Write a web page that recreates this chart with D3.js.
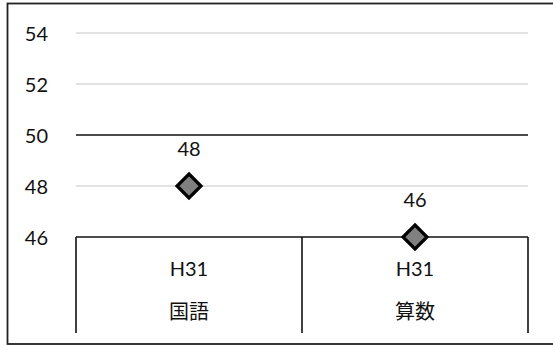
<!DOCTYPE html>
<html>
<head>
<meta charset="utf-8">
<script src="https://cdn.jsdelivr.net/npm/d3@7"></script>
<style>
  html, body { margin: 0; padding: 0; background: #fff; }
  svg { display: block; }
  text { font-family: Lato, "Open Sans", "Noto Sans CJK JP", sans-serif; fill: #111; }
  .cjk { font-family: "Noto Sans CJK JP", sans-serif; }
</style>
</head>
<body>
<script>
const categories = ["国語", "算数"];
const years = ["H31", "H31"];
const values = [48, 46];
const yTicks = [46, 48, 50, 52, 54];

const W = 553, H = 347;
const FS = 20;
const svg = d3.select("body").append("svg").attr("width", W).attr("height", H);

// outer chart border (right edge extends past the picture)
svg.append("rect")
  .attr("x", 7.5).attr("y", 3.5)
  .attr("width", 560).attr("height", 340.5)
  .attr("fill", "none").attr("stroke", "#222").attr("stroke-width", 1.8);

const x = d3.scaleBand().domain(categories).range([76, 528]).padding(0);
const y = d3.scaleLinear().domain([46, 54]).range([237, 33]);

// gridlines
svg.append("g").selectAll("line")
  .data(yTicks.filter(t => t !== 46))
  .join("line")
  .attr("x1", 76).attr("x2", 528)
  .attr("y1", d => y(d)).attr("y2", d => y(d))
  .attr("stroke", d => d === 50 ? "#111" : "#d9d9d9")
  .attr("stroke-width", 1.6);

// y axis labels
const yAxis = d3.axisLeft(y).tickValues(yTicks).tickSize(0).tickPadding(0).tickFormat(d3.format("d"));
const ya = svg.append("g").attr("transform", "translate(48,0)").call(yAxis);
ya.select(".domain").remove();
ya.selectAll("text").attr("font-size", FS).attr("font-family", "Lato, 'Open Sans', sans-serif").attr("fill", "#111").attr("dy", "0.35em");

// category axis box
const axisG = svg.append("g");
axisG.append("line")
  .attr("x1", x.range()[0]).attr("x2", x.range()[1])
  .attr("y1", y(46)).attr("y2", y(46))
  .attr("stroke", "#111").attr("stroke-width", 1.6);
const bounds = categories.map(c => x(c)).concat([x.range()[1]]);
axisG.selectAll("line.tick")
  .data(bounds)
  .join("line").attr("class", "tick")
  .attr("x1", d => d).attr("x2", d => d)
  .attr("y1", y(46)).attr("y2", 333)
  .attr("stroke", "#111").attr("stroke-width", 1.6);

axisG.selectAll("text.year")
  .data(categories)
  .join("text").attr("class", "year")
  .attr("x", d => x(d) + x.bandwidth() / 2)
  .attr("y", 269).attr("dy", "0.35em")
  .attr("text-anchor", "middle").attr("font-size", FS)
  .text((d, i) => years[i]);

axisG.selectAll("text.cat")
  .data(categories)
  .join("text").attr("class", "cat cjk")
  .attr("x", d => x(d) + x.bandwidth() / 2)
  .attr("y", 312).attr("dy", "0.35em")
  .attr("text-anchor", "middle").attr("font-size", FS)
  .text(d => d);

// markers
const r = 12;
svg.append("g").selectAll("path")
  .data(values)
  .join("path")
  .attr("d", (d, i) => {
    const cx = x(categories[i]) + x.bandwidth() / 2, cy = y(d);
    return `M${cx},${cy - r}L${cx + r},${cy}L${cx},${cy + r}L${cx - r},${cy}Z`;
  })
  .attr("fill", "#808080").attr("stroke", "#000").attr("stroke-width", 3.2)
  .attr("stroke-linejoin", "miter");

// data labels
svg.append("g").selectAll("text")
  .data(values)
  .join("text")
  .attr("x", (d, i) => x(categories[i]) + x.bandwidth() / 2)
  .attr("y", d => y(d) - 37).attr("dy", "0.35em")
  .attr("text-anchor", "middle").attr("font-size", FS)
  .text(d => d);
</script>
</body>
</html>
